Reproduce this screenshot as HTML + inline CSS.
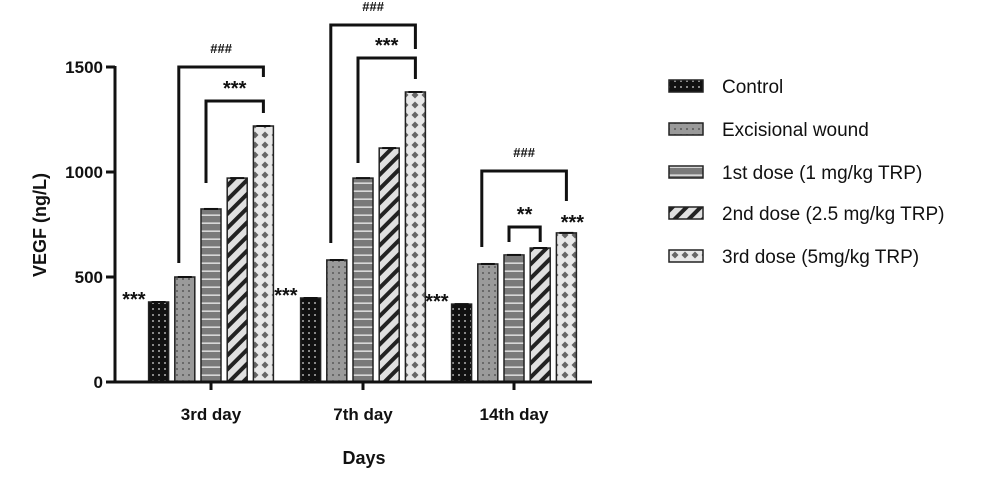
<!DOCTYPE html>
<html><head><meta charset="utf-8">
<style>
html,body{margin:0;padding:0;background:#fff;}
svg{display:block;font-family:"Liberation Sans",Arial,sans-serif;}
</style></head>
<body>
<svg id="chart" width="1000" height="482" viewBox="0 0 1000 482" xmlns="http://www.w3.org/2000/svg">
<defs>
<pattern id="p0" width="6" height="6" patternUnits="userSpaceOnUse"><rect width="6" height="6" fill="#111"/><circle cx="3" cy="3" r="0.9" fill="#ddd"/></pattern>
<pattern id="p1" width="6" height="6" patternUnits="userSpaceOnUse"><rect width="6" height="6" fill="#9a9a9a"/><circle cx="3" cy="3" r="0.9" fill="#444"/></pattern>
<pattern id="p2" width="6" height="8" patternUnits="userSpaceOnUse"><rect width="6" height="8" fill="#7a7a7a"/><rect y="6.5" width="6" height="1.3" fill="#f0f0f0"/></pattern>
<pattern id="p3" width="10" height="10" patternUnits="userSpaceOnUse" patternTransform="rotate(45)"><rect width="10" height="10" fill="#e0e0e0"/><rect width="4" height="10" fill="#222"/></pattern>
<pattern id="p4" width="10" height="10" patternUnits="userSpaceOnUse"><rect width="10" height="10" fill="#e8e8e8"/><polygon points="5,1.5 8.5,5 5,8.5 1.5,5" fill="#666"/></pattern>
</defs>
<g id="bars"></g>
<g id="axes" stroke="#111" stroke-width="3" fill="none"></g>
<g id="labels"></g>
<g id="legend"></g>
</svg>
<script>
const categories = ["3rd day","7th day","14th day"];
const seriesNames = ["Control","Excisional wound","1st dose (1 mg/kg TRP)","2nd dose (2.5 mg/kg TRP)","3rd dose (5mg/kg TRP)"];
const controlVals = [381, 400, 371];
const excisionalVals = [500, 581, 562];
const dose1Vals = [824, 971, 605];
const dose2Vals = [971, 1114, 638];
const dose3Vals = [1219, 1381, 710];
const yTicks = [0, 500, 1000, 1500];

const NS = "http://www.w3.org/2000/svg";
const X0 = 115, X1 = 592, Y0 = 382, YTOP = 67;
const y = v => Y0 - (v / 1500) * (Y0 - YTOP);
const groupCenters = [211, 363, 514];
const barW = 20, pitch = 26.2;
const xBar = (g, s) => groupCenters[g] + (s - 2) * pitch - barW / 2;
const series = [controlVals, excisionalVals, dose1Vals, dose2Vals, dose3Vals];

function mk(tag, attrs, parent) {
  const e = document.createElementNS(NS, tag);
  for (const k in attrs) e.setAttribute(k, attrs[k]);
  parent.appendChild(e);
  return e;
}
const bars = document.getElementById('bars');
series.forEach((vals, s) => {
  vals.forEach((v, g) => {
    const r = mk('rect', {x: xBar(g, s), y: y(v), width: barW, height: Y0 - y(v), fill: 'url(#p' + s + ')', stroke: '#222', 'stroke-width': 1.5}, bars);
    
    
    const c = mk('line', {x1: xBar(g, s) + 3, x2: xBar(g, s) + barW - 3, y1: y(v), y2: y(v), stroke: '#111', 'stroke-width': 2}, bars);
    
    
  });
});

const axes = document.getElementById('axes');
const yl = mk('line', {x1: X0, x2: X0, y1: YTOP - 1, y2: Y0 + 1}, axes);


const xl = mk('line', {x1: X0, x2: X1, y1: Y0, y2: Y0}, axes);


const labels = document.getElementById('labels');
yTicks.forEach(t => {
  const tl = mk('line', {x1: X0 - 9, x2: X0, y1: y(t), y2: y(t)}, axes);
  
  
  const tx = mk('text', {x: X0 - 12, y: y(t) + 6, 'text-anchor': 'end', 'font-size': 17, 'font-weight': 'bold', fill: '#111'}, labels);
  tx.textContent = t;
  
  
});
categories.forEach((c, g) => {
  const tl = mk('line', {x1: groupCenters[g], x2: groupCenters[g], y1: Y0, y2: Y0 + 8}, axes);
  
  
  const tx = mk('text', {x: groupCenters[g], y: 420, 'text-anchor': 'middle', 'font-size': 17, 'font-weight': 'bold', fill: '#111'}, labels);
  tx.textContent = c;
  
  
});
const yt = mk('text', {x: 0, y: 0, transform: 'translate(46,225) rotate(-90)', 'text-anchor': 'middle', 'font-size': 18, 'font-weight': 'bold', fill: '#111'}, labels);
yt.textContent = 'VEGF (ng/L)';


const xt = mk('text', {x: 364, y: 464, 'text-anchor': 'middle', 'font-size': 18, 'font-weight': 'bold', fill: '#111'}, labels);
xt.textContent = 'Days';



// significance brackets: [group, sFrom, sTo, topY, leftBottom, rightBottom, label]
const brackets = [
  [0, 1, 4, 67, 263, 77, '###'],
  [0, 2, 4, 101, 183, 113, '***'],
  [1, 1, 4, 25, 243, 49, '###'],
  [1, 2, 4, 58, 163, 79, '***'],
  [2, 1, 4, 171, 247, 201, '###'],
  [2, 2, 3, 227, 242, 242, '**']
];
brackets.forEach(b => {
  const xa = xBar(b[0], b[1]) + barW / 2 + (b[1] === 1 ? -6 : -5), xb = xBar(b[0], b[2]) + barW / 2;
  const p = mk('path', {d: `M${xa},${b[4]} V${b[3]} H${xb} V${b[5]}`, stroke: '#111', 'stroke-width': 3, fill: 'none'}, labels);
  
  
  const isHash = b[6] === '###';
  const t = mk('text', {x: (xa + xb) / 2, y: b[3] - (isHash ? 14 : 10), 'text-anchor': 'middle', 'font-size': isHash ? 13 : 20, 'font-weight': 'bold', fill: '#111'}, labels);
  if (!isHash) t.setAttribute('y', b[3] - 6);
  t.textContent = b[6];
  
  
});
// stars next to control bars and 14th day 3rd dose
controlVals.forEach((v, g) => {
  const t = mk('text', {x: xBar(g, 0) - 3, y: y(v) + 4, 'text-anchor': 'end', 'font-size': 20, 'font-weight': 'bold', fill: '#111'}, labels);
  t.textContent = '***';
  
  
});
const s3 = mk('text', {x: xBar(2, 4) + barW / 2 + 6, y: y(dose3Vals[2]) - 4, 'text-anchor': 'middle', 'font-size': 20, 'font-weight': 'bold', fill: '#111'}, labels);
s3.textContent = '***';



const legend = document.getElementById('legend');
const legY = [86, 129, 172, 213, 256];
seriesNames.forEach((n, s) => {
  const r = mk('rect', {x: 669, y: legY[s] - 6, width: 34, height: 12, fill: 'url(#p' + s + ')', stroke: '#222', 'stroke-width': 1.5}, legend);
  
  
  const t = mk('text', {x: 722, y: legY[s] + 7, 'font-size': 19, fill: '#111'}, legend);
  t.textContent = n;
  
  
});
</script>
</body></html>
